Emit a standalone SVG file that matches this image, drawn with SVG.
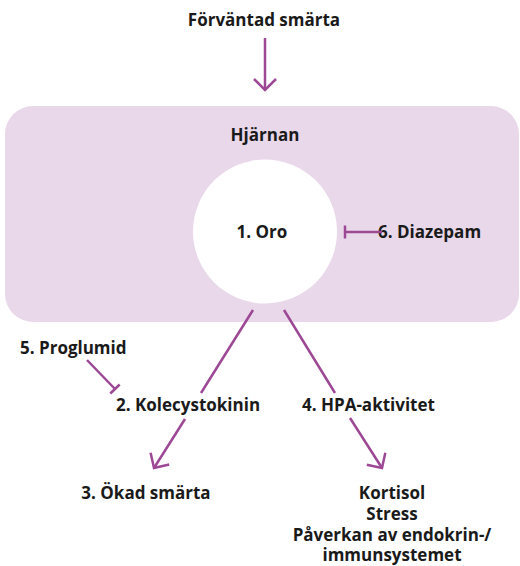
<svg xmlns="http://www.w3.org/2000/svg" width="520" height="566" viewBox="0 0 520 566">
  <style>
    .t { font-family: "Open Sans", "Liberation Sans", sans-serif; font-weight: bold; font-size: 17px; fill: #1a1a1a; }
    .c { text-anchor: middle; }
    .ln { fill: none; stroke: #9c4895; stroke-width: 2.5; }
  </style>
  <defs>
    <marker id="arrow" markerUnits="userSpaceOnUse" markerWidth="30" markerHeight="30" refX="0" refY="0" viewBox="-15 -15 30 30" orient="auto" overflow="visible">
      <path d="M-11,-11 L0,0 L-11,11" fill="none" stroke="#9c4895" stroke-width="2.5"/>
    </marker>
    <marker id="tbar" markerUnits="userSpaceOnUse" markerWidth="20" markerHeight="20" refX="0" refY="0" viewBox="-10 -10 20 20" orient="auto" overflow="visible">
      <path d="M0,-6.5 L0,6.5" fill="none" stroke="#9c4895" stroke-width="2.5"/>
    </marker>
  </defs>

  <g id="brain">
    <rect x="5" y="106" width="514" height="216" rx="28" ry="28" fill="#e9d8ea"/>
    <text class="t c" x="265" y="141">Hjärnan</text>
  </g>

  <g id="expected-pain">
    <text class="t c" x="264" y="26">Förväntad smärta</text>
  </g>

  <g id="oro">
    <circle cx="265" cy="231.5" r="72" fill="#ffffff"/>
    <text class="t c" x="262" y="238">1. Oro</text>
  </g>

  <g id="diazepam">
    <text class="t" x="378" y="238">6. Diazepam</text>
  </g>

  <g id="proglumid">
    <text class="t" x="20" y="354">5. Proglumid</text>
  </g>

  <g id="kolecystokinin">
    <text class="t" x="116" y="411">2. Kolecystokinin</text>
  </g>

  <g id="hpa">
    <text class="t" x="302" y="411">4. HPA-aktivitet</text>
  </g>

  <g id="okad-smarta">
    <text class="t c" x="146" y="499">3. Ökad smärta</text>
  </g>

  <g id="effects">
    <text class="t c" x="392" y="499">Kortisol</text>
    <text class="t c" x="392" y="520">Stress</text>
    <text class="t c" x="392" y="541">Påverkan av endokrin-/</text>
    <text class="t c" x="392" y="561">immunsystemet</text>
  </g>

  <g id="connectors">
    <path class="ln" d="M265,38 L265,90" marker-end="url(#arrow)"/>
    <path class="ln" d="M382,232 L345,232" marker-end="url(#tbar)"/>
    <path class="ln" d="M87,360 L115,389" marker-end="url(#tbar)"/>
    <path class="ln" d="M253,310 L201,393 M185,419 L154,468" marker-end="url(#arrow)"/>
    <path class="ln" d="M284,310 L335,393 M350,418 L382,468" marker-end="url(#arrow)"/>
  </g>
</svg>
